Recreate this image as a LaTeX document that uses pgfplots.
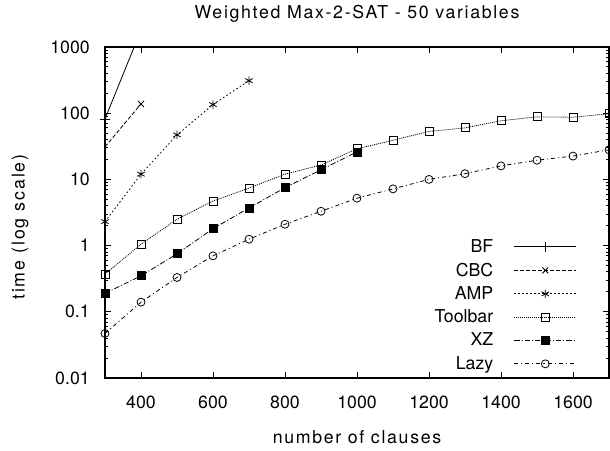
\documentclass[border=0pt]{standalone}
\usepackage{fontspec}
\setmainfont{TeX Gyre Heros}
\newfontfamily\lblfont[LetterSpace=9.5]{TeX Gyre Heros}
\newfontfamily\ylblfont[LetterSpace=11]{TeX Gyre Heros}
\usepackage{pgfplots}
\pgfplotsset{compat=1.18}
\newcommand\ff{\fontsize{13.3pt}{15pt}\selectfont}
\newcommand\lbl{\lblfont\fontsize{13.3pt}{15pt}\selectfont}
\newcommand\ylbl{\ylblfont\fontsize{13.3pt}{15pt}\selectfont}
\begin{document}
\begin{tikzpicture}
\path[use as bounding box] (-78.75pt,-54pt) rectangle (378.75pt,283.5pt);
\begin{axis}[
    scale only axis,
    width=378pt, height=248.25pt,
    ymode=log,
    xmin=300, xmax=1700,
    ymin=0.01, ymax=1000,
    xtick={400,600,...,1600},
    ytick={0.01,0.1,1,10,100,1000},
    yticklabels={0.01,0.1,1,10,100,1000},
    minor ytick={0.02,0.03,0.04,0.05,0.06,0.07,0.08,0.09,
                 0.2,0.3,0.4,0.5,0.6,0.7,0.8,0.9,
                 2,3,4,5,6,7,8,9,
                 20,30,40,50,60,70,80,90,
                 200,300,400,500,600,700,800,900},
    /pgf/number format/assume math mode=true,
    /pgf/number format/1000 sep={},
    tick align=inside,
    major tick length=4.5pt,
    minor tick length=2.25pt,
    axis line style={line width=1pt},
    every tick/.style={black, line width=0.7pt},
    xticklabel style={font=\ff, anchor=center, inner sep=0pt, yshift=-18pt},
    yticklabel style={font=\ff, anchor=east, inner sep=0pt, xshift=-11.25pt},
    title={Weighted Max-2-SAT - 50 variables},
    every axis title/.style={font=\lbl, at={(rel axis cs:0.5,1.0997)}, anchor=center, inner sep=0pt},
    xlabel={number of clauses},
    every axis x label/.style={font=\lbl, at={(rel axis cs:0.5,-0.1782)}, anchor=center, inner sep=0pt},
    ylabel={time (log scale)},
    every axis y label/.style={font=\ylbl, at={(rel axis cs:-0.1687,0.456)}, anchor=center, rotate=90, inner sep=0pt},
    legend plot pos=right,
    legend cell align=right,
    legend image code/.code={
        \draw[mark repeat=2, mark phase=2, #1]
            plot coordinates {(0pt,0pt) (23.25pt,0pt) (46.5pt,0pt)};
    },
    legend style={
        at={(rel axis cs:0.9365,0.4275)}, anchor=north east,
        draw=none, fill=none, font=\ff,
        inner sep=0pt, column sep=13.5pt, row sep=2.3pt,
    },
    every axis plot/.append style={black, line width=0.6pt},
]

% BF
\addplot[solid, mark=+, mark size=3.5pt, mark options={solid}]
    coordinates {(300,82) (400,1800)};
\addlegendentry{BF}

% CBC (first point sits on the border, no visible mark there)
\addplot[dash pattern=on 3pt off 1.5pt, mark=x, mark size=3.2pt, mark options={solid},
         mark indices={2}]
    coordinates {(300,31) (400,138)};
\addlegendentry{CBC}

% AMP
\addplot[dash pattern=on 1.2pt off 1.8pt, mark=asterisk, mark size=3.2pt, mark options={solid}]
    coordinates {(300,2.3) (400,12) (500,47) (600,135) (700,310)};
\addlegendentry{AMP}

% Toolbar
\addplot[dash pattern=on 0.75pt off 0.75pt, mark=square, mark size=3pt, mark options={solid}]
    coordinates {(300,0.37) (400,1.05) (500,2.5) (600,4.7) (700,7.4) (800,12)
                 (900,16.5) (1000,29) (1100,39) (1200,53) (1300,60) (1400,77)
                 (1500,88) (1600,87) (1700,98)};
\addlegendentry{Toolbar}

% XZ
\addplot[dash pattern=on 4pt off 1.5pt on 0.8pt off 1.5pt, mark=square*, mark size=3pt, mark options={solid}]
    coordinates {(300,0.19) (400,0.35) (500,0.75) (600,1.8) (700,3.7) (800,7.5)
                 (900,14) (1000,26)};
\addlegendentry{XZ}

% Lazy
\addplot[dash pattern=on 3pt off 2.25pt on 0.8pt off 2.25pt, mark=o, mark size=3pt, mark options={solid}]
    coordinates {(300,0.047) (400,0.14) (500,0.33) (600,0.7) (700,1.25) (800,2.1)
                 (900,3.3) (1000,5.2) (1100,7.2) (1200,10) (1300,12.2) (1400,16)
                 (1500,19.5) (1600,22.5) (1700,28)};
\addlegendentry{Lazy}

\end{axis}
\end{tikzpicture}
\end{document}
